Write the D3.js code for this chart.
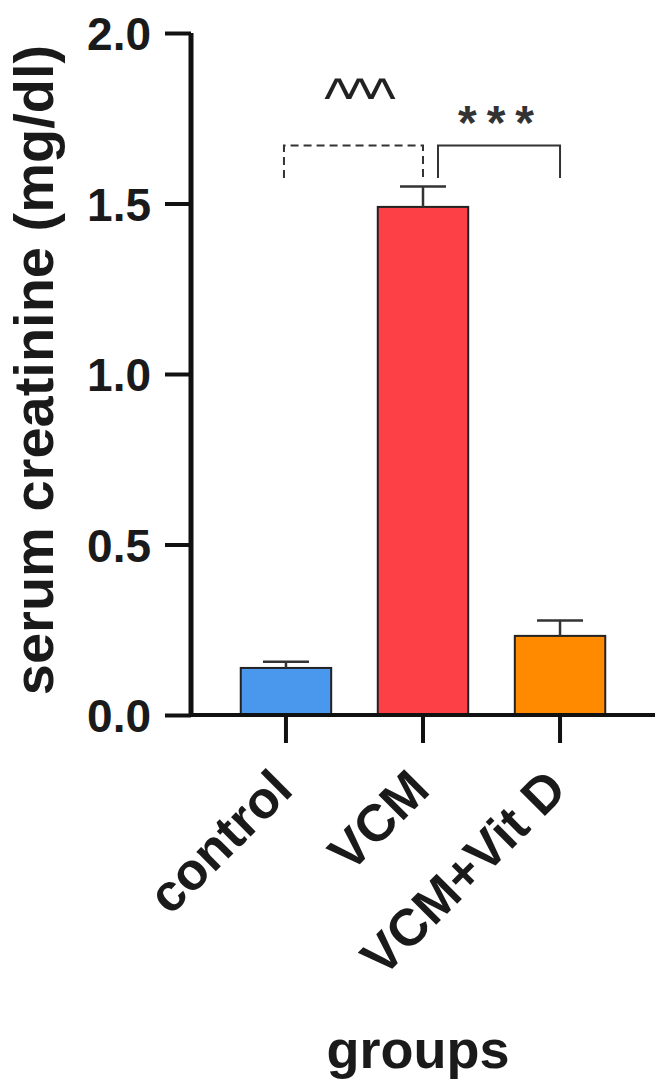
<!DOCTYPE html>
<html>
<head>
    <meta charset="utf-8">
    <title>serum creatinine</title>
    <script src="https://d3js.org/d3.v7.min.js"></script>
    <style>
        body { margin: 0; background: #fff; }
        svg text { font-family: "Liberation Sans", Arial, sans-serif; }
    </style>
</head>
<body>
    <script>
        // data
        const groups = ["control", "VCM", "VCM+Vit D"];
        const means = [0.138, 1.49, 0.232];
        const sems = [0.018, 0.06, 0.045];
        const barColors = ["#4a97ee", "#fd4045", "#ff8a00"];
        const yTicks = [0, 0.5, 1.0, 1.5, 2.0];
        // significance brackets: [from, to, level, drop level, label]
        const brackets = [
            ["control", "VCM", 1.67, 1.575, "^^^"],
            ["VCM", "VCM+Vit D", 1.67, 1.575, "***"]
        ];

        const width = 666;
        const height = 1092;

        const svg = d3.select("body").append("svg")
            .attr("width", width)
            .attr("height", height);

        const y = d3.scaleLinear().domain([0, 2]).range([715, 33]);
        const x = d3.scaleBand().domain(groups).range([191, 655])
            .paddingInner(0.34).paddingOuter(0.363);

        // y axis
        const yAxis = d3.axisLeft(y).tickValues(yTicks).tickSize(26).tickPadding(14)
            .tickFormat(d3.format(".1f"));
        const yg = svg.append("g").attr("transform", "translate(191,0)").call(yAxis);
        yg.select(".domain").attr("stroke", "#111").attr("stroke-width", 5)
            .attr("d", "M0," + y(2) + "V" + y(0));
        yg.selectAll(".tick line").attr("stroke", "#111").attr("stroke-width", 4);
        yg.selectAll(".tick text")
            .attr("fill", "#1a1a1a")
            .style("font-size", "46px")
            .style("font-weight", "bold")
            .attr("dy", "0.36em");

        // bars
        svg.selectAll("rect.bar").data(groups).enter().append("rect")
            .attr("class", "bar")
            .attr("x", d => x(d))
            .attr("width", x.bandwidth())
            .attr("y", (d, i) => y(means[i]))
            .attr("height", (d, i) => y(0) - y(means[i]))
            .attr("fill", (d, i) => barColors[i])
            .attr("stroke", "#222")
            .attr("stroke-width", 2);

        // error bars
        const capW = 46;
        const eb = svg.selectAll("g.err").data(groups).enter().append("g")
            .attr("class", "err")
            .attr("stroke", "#333")
            .attr("stroke-width", 2.5);
        eb.append("line")
            .attr("x1", d => x(d) + x.bandwidth() / 2)
            .attr("x2", d => x(d) + x.bandwidth() / 2)
            .attr("y1", (d, i) => y(means[i]))
            .attr("y2", (d, i) => y(means[i] + sems[i]));
        eb.append("line")
            .attr("x1", d => x(d) + x.bandwidth() / 2 - capW / 2)
            .attr("x2", d => x(d) + x.bandwidth() / 2 + capW / 2)
            .attr("y1", (d, i) => y(means[i] + sems[i]))
            .attr("y2", (d, i) => y(means[i] + sems[i]));

        // x axis
        const xAxis = d3.axisBottom(x).tickSize(28).tickFormat("");
        const xg = svg.append("g").attr("transform", "translate(0," + y(0) + ")").call(xAxis);
        xg.select(".domain").attr("stroke", "#111").attr("stroke-width", 4)
            .attr("d", "M189,0H655");
        xg.selectAll(".tick line").attr("stroke", "#111").attr("stroke-width", 4);

        // rotated category labels
        svg.selectAll("text.cat").data(groups).enter().append("text")
            .attr("class", "cat")
            .attr("transform", d => "translate(" + (x(d) + x.bandwidth() / 2 + 9) + ",792) rotate(-45)")
            .attr("text-anchor", "end")
            .attr("fill", "#1a1a1a")
            .style("font-size", "52px")
            .style("font-weight", "bold")
            .text(d => d);

        // significance brackets
        const cx = g => x(g) + x.bandwidth() / 2;
        brackets.forEach((b, i) => {
            const dashed = i === 0;
            const x1 = dashed ? cx(b[0]) - 2 : cx(b[0]) + 15;
            const x2 = cx(b[1]);
            svg.append("path")
                .attr("d", "M" + x1 + "," + y(b[3]) + "V" + y(b[2]) + "H" + x2 + "V" + y(b[3]))
                .attr("fill", "none")
                .attr("stroke", "#333")
                .attr("stroke-width", 2)
                .attr("stroke-dasharray", dashed ? "8,5" : null);
            svg.append("text")
                .attr("x", dashed ? (x1 + x2) / 2 + 4 : (x1 + x2) / 2 + 2)
                .attr("y", dashed ? 118 : 139)
                .attr("text-anchor", "middle")
                .attr("fill", dashed ? "#222" : "#333")
                .attr("letter-spacing", dashed ? -5 : 10)
                .style("font-size", dashed ? "58px" : "48px")
                .style("font-weight", dashed ? "normal" : "bold")
                .text(b[4]);
        });

        // axis titles
        svg.append("text")
            .attr("transform", "translate(53,370) rotate(-90)")
            .attr("text-anchor", "middle")
            .attr("fill", "#1a1a1a")
            .style("font-size", "56px")
            .style("font-weight", "bold")
            .text("serum creatinine (mg/dl)");

        svg.append("text")
            .attr("x", 418)
            .attr("y", 1068)
            .attr("text-anchor", "middle")
            .attr("fill", "#1a1a1a")
            .style("font-size", "54px")
            .style("font-weight", "bold")
            .text("groups");
    </script>
</body>
</html>
